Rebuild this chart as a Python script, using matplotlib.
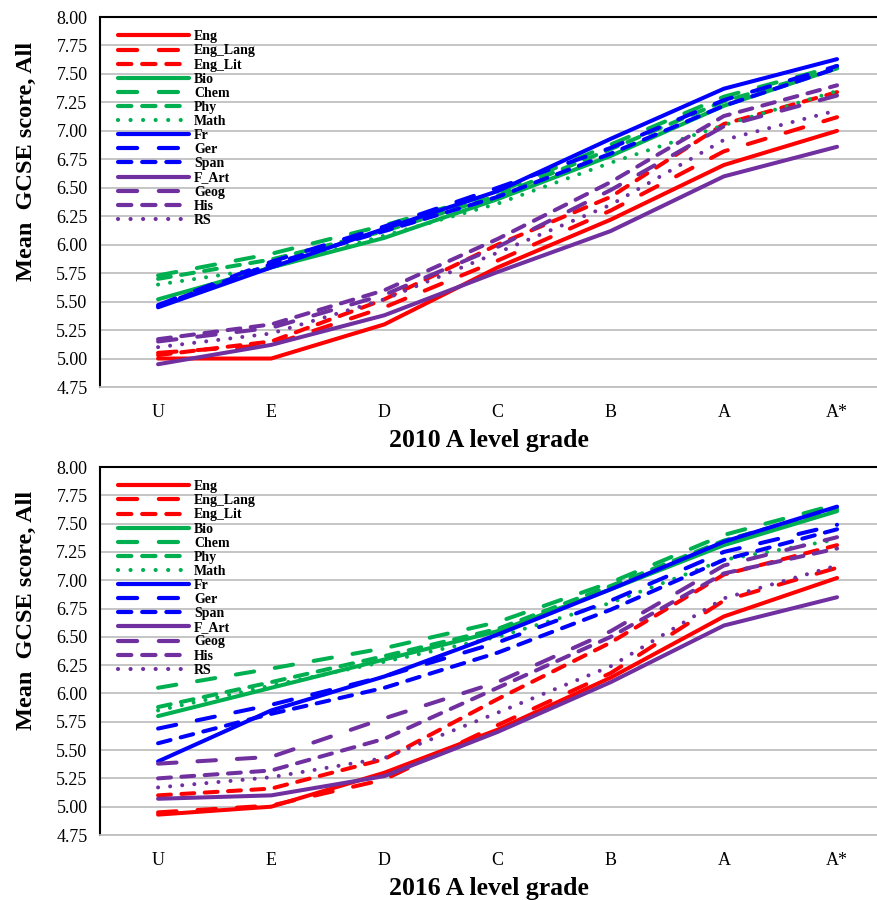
import matplotlib
matplotlib.use("Agg")
import matplotlib.pyplot as plt

grades = ["U", "E", "D", "C", "B", "A", "A*"]
subjects = ["Eng", "Eng_Lang", "Eng_Lit", "Bio", "Chem", "Phy", "Math",
            "Fr", "Ger", "Span", "F_Art", "Geog", "His", "RS"]

# mean GCSE score by A level grade, 2010
eng_2010      = [5.00, 5.00, 5.30, 5.80, 6.22, 6.70, 7.00]
eng_lang_2010 = [5.05, 5.12, 5.45, 5.86, 6.30, 6.82, 7.12]
eng_lit_2010  = [5.03, 5.15, 5.52, 6.00, 6.42, 7.06, 7.34]
bio_2010      = [5.52, 5.80, 6.06, 6.40, 6.78, 7.22, 7.55]
chem_2010     = [5.73, 5.92, 6.17, 6.46, 6.88, 7.30, 7.57]
phy_2010      = [5.70, 5.87, 6.12, 6.43, 6.84, 7.26, 7.55]
math_2010     = [5.65, 5.80, 6.08, 6.36, 6.72, 7.05, 7.35]
fr_2010       = [5.45, 5.80, 6.14, 6.47, 6.93, 7.37, 7.63]
ger_2010      = [5.47, 5.85, 6.16, 6.50, 6.85, 7.27, 7.57]
span_2010     = [5.46, 5.83, 6.12, 6.42, 6.80, 7.22, 7.55]
f_art_2010    = [4.95, 5.12, 5.38, 5.76, 6.12, 6.60, 6.86]
geog_2010     = [5.15, 5.27, 5.56, 5.98, 6.48, 7.04, 7.31]
his_2010      = [5.17, 5.30, 5.60, 6.05, 6.55, 7.13, 7.40]
rs_2010       = [5.10, 5.22, 5.52, 5.93, 6.35, 6.92, 7.18]

# mean GCSE score by A level grade, 2016
eng_2016      = [4.93, 5.00, 5.30, 5.68, 6.14, 6.68, 7.02]
eng_lang_2016 = [4.95, 5.01, 5.24, 5.72, 6.18, 6.82, 7.11]
eng_lit_2016  = [5.10, 5.16, 5.42, 5.95, 6.45, 7.05, 7.31]
bio_2016      = [5.80, 6.05, 6.30, 6.55, 6.92, 7.31, 7.61]
chem_2016     = [6.05, 6.22, 6.40, 6.63, 6.98, 7.40, 7.67]
phy_2016      = [5.88, 6.10, 6.33, 6.57, 6.95, 7.35, 7.63]
math_2016     = [5.85, 6.07, 6.28, 6.50, 6.80, 7.18, 7.36]
fr_2016       = [5.40, 5.85, 6.15, 6.52, 6.92, 7.34, 7.65]
ger_2016      = [5.69, 5.90, 6.15, 6.45, 6.82, 7.25, 7.49]
span_2016     = [5.56, 5.82, 6.05, 6.36, 6.74, 7.18, 7.45]
f_art_2016    = [5.07, 5.10, 5.27, 5.66, 6.10, 6.60, 6.85]
geog_2016     = [5.38, 5.44, 5.78, 6.10, 6.55, 7.13, 7.38]
his_2016      = [5.25, 5.32, 5.60, 6.05, 6.50, 7.06, 7.28]
rs_2016       = [5.17, 5.26, 5.43, 5.83, 6.24, 6.84, 7.13]

data_2010 = [eng_2010, eng_lang_2010, eng_lit_2010, bio_2010, chem_2010,
             phy_2010, math_2010, fr_2010, ger_2010, span_2010, f_art_2010,
             geog_2010, his_2010, rs_2010]
data_2016 = [eng_2016, eng_lang_2016, eng_lit_2016, bio_2016, chem_2016,
             phy_2016, math_2016, fr_2016, ger_2016, span_2016, f_art_2016,
             geog_2016, his_2016, rs_2016]

RED, GREEN, BLUE, PURPLE = "#FF0000", "#00B050", "#0000FF", "#7030A0"
solid = "-"
longdash = (0, (4.6, 5.2))
dash = (0, (3.2, 2.6))
dot = (0, (0.01, 3.0))
colors = [RED, RED, RED, GREEN, GREEN, GREEN, GREEN,
          BLUE, BLUE, BLUE, PURPLE, PURPLE, PURPLE, PURPLE]
styles = [solid, longdash, dash, solid, longdash, dash, dot,
          solid, longdash, dash, solid, longdash, dash, dot]

serif = "Liberation Serif"

fig = plt.figure(figsize=(8.77, 9.0), dpi=100)
ax1 = fig.add_axes([100 / 877, 1 - 387 / 900, 777 / 877, 370 / 900])
ax2 = fig.add_axes([100 / 877, 1 - 835 / 900, 777 / 877, 368 / 900])

x = list(range(len(grades)))
for ax, data, year in [(ax1, data_2010, "2010"), (ax2, data_2016, "2016")]:
    for name, vals, c, ls in zip(subjects, data, colors, styles):
        ax.plot(x, vals, color=c, linestyle=ls, lw=2.9, label=name,
                solid_capstyle="round", dash_capstyle="round")
    ax.set_xlim(-0.513, 6.353)
    ax.set_ylim(4.75, 8.0)
    ax.set_yticks([4.75 + 0.25 * i for i in range(14)])
    ax.set_yticklabels(["%.2f" % (4.75 + 0.25 * i) for i in range(14)],
                       fontfamily=serif, fontsize=13)
    ax.set_xticks(x)
    ax.set_xticklabels(grades, fontfamily=serif, fontsize=13)
    ax.tick_params(axis="y", length=0, pad=9)
    ax.tick_params(axis="x", length=0, pad=12)
    ax.grid(axis="y", color="#C0C0C0", lw=1.3)
    ax.set_axisbelow(True)
    ax.spines["right"].set_visible(False)
    ax.spines["bottom"].set_color("#C0C0C0")
    ax.spines["bottom"].set_linewidth(1.3)
    ax.spines["top"].set_linewidth(1.5)
    ax.spines["left"].set_linewidth(1.5)
    ax.set_xlabel(year + " A level grade", fontfamily=serif,
                  fontweight="bold", fontsize=18.5, labelpad=6)
    ax.set_ylabel("Mean  GCSE score, All", fontfamily=serif,
                  fontweight="bold", fontsize=17.5)
    ax.yaxis.set_label_coords(-0.081, 0.61)
    leg = ax.legend(loc="upper left", bbox_to_anchor=(0.0235, 0.964),
                    frameon=False,
                    prop={"family": serif, "weight": "bold", "size": 10},
                    handlelength=5.1, handletextpad=0.35, labelspacing=0.08,
                    borderpad=0.0, borderaxespad=0.0)
    for line in leg.get_lines():
        line.set_linewidth(3.0)

fig.savefig("out.png", dpi=100)
